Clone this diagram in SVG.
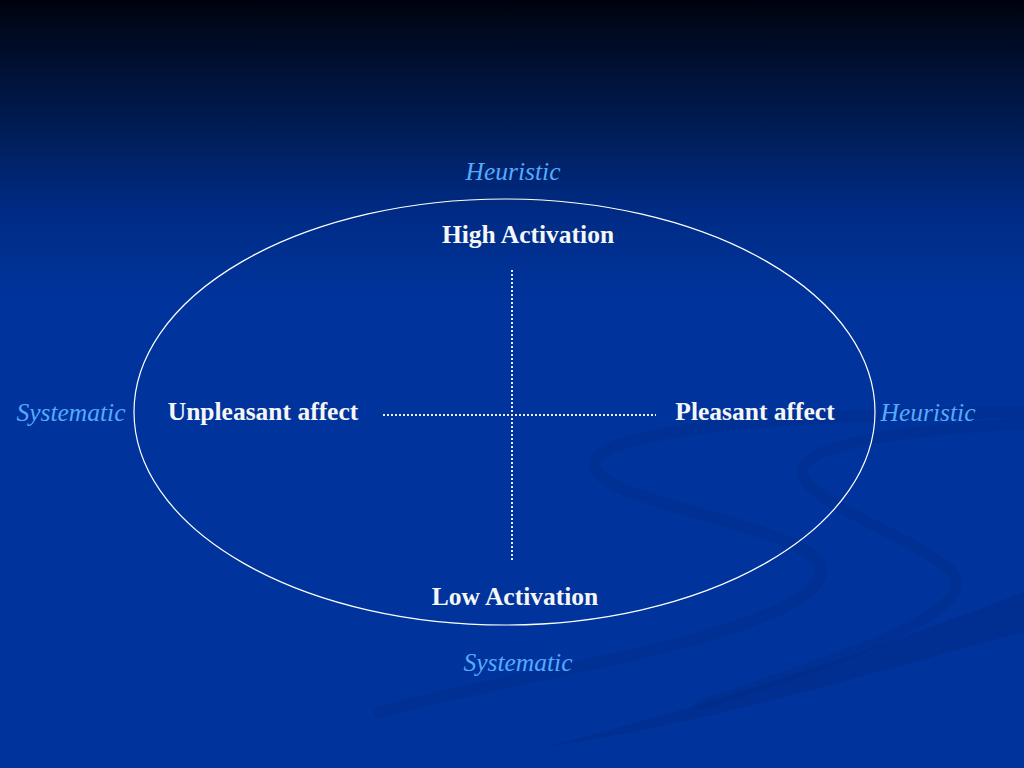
<svg xmlns="http://www.w3.org/2000/svg" width="1024" height="768" viewBox="0 0 1024 768">
  <defs>
    <linearGradient id="bg" x1="0" y1="0" x2="0" y2="300" gradientUnits="userSpaceOnUse">
      <stop offset="0" stop-color="#00000e"/>
      <stop offset="0.05" stop-color="#000616"/>
      <stop offset="0.35" stop-color="#001848"/>
      <stop offset="0.7" stop-color="#002b84"/>
      <stop offset="1" stop-color="#00349c"/>
    </linearGradient>
  </defs>
  <style>
    .bold { font-family: "Liberation Serif", "Times New Roman", serif; font-weight: bold; font-size: 25.5px; fill: #f6f6f6; text-anchor: middle; }
    .ital { font-family: "Liberation Serif", "Times New Roman", serif; font-style: italic; font-size: 25.5px; fill: #55aaff; text-anchor: middle; }
    .swoosh { fill: none; stroke: #002a86; stroke-linecap: round; opacity: 0.4; }
    .dots { stroke: #eaf2ff; stroke-width: 2; stroke-dasharray: 2 2; fill: none; }
  </style>
  <rect x="0" y="0" width="1024" height="768" fill="url(#bg)"/>
  <g id="decoration">
    <path class="swoosh" stroke-width="12" d="M1024,412 C800,414 605,428 595,462 C585,498 760,518 812,555 C850,590 760,628 600,662 C500,684 420,700 380,712"/>
    <path class="swoosh" stroke-width="11" d="M1024,424 C900,430 805,445 802,470 C800,500 900,530 948,568 C990,608 860,652 700,705"/>
    <path fill="#002a86" opacity="0.45" d="M1024,592 L1024,632 C900,664 720,722 540,748 C720,704 900,640 1024,592 Z"/>
  </g>
  <g id="frame">
    <ellipse cx="504.5" cy="412" rx="370.5" ry="213" fill="none" stroke="#ffffff" stroke-width="1.2"/>
  </g>
  <g id="connectors">
    <line class="dots" x1="512" y1="270" x2="512" y2="562"/>
    <line class="dots" x1="383" y1="415" x2="656" y2="415"/>
  </g>
  <g id="node-high"><text class="bold" x="528" y="243">High Activation</text></g>
  <g id="node-low"><text class="bold" x="515" y="605">Low Activation</text></g>
  <g id="node-unpleasant"><text class="bold" x="263" y="420">Unpleasant affect</text></g>
  <g id="node-pleasant"><text class="bold" x="755" y="420">Pleasant affect</text></g>
  <g id="label-heuristic-top"><text class="ital" x="513" y="180">Heuristic</text></g>
  <g id="label-heuristic-right"><text class="ital" x="928" y="421">Heuristic</text></g>
  <g id="label-systematic-left"><text class="ital" x="71" y="421">Systematic</text></g>
  <g id="label-systematic-bottom"><text class="ital" x="518" y="671">Systematic</text></g>
</svg>
